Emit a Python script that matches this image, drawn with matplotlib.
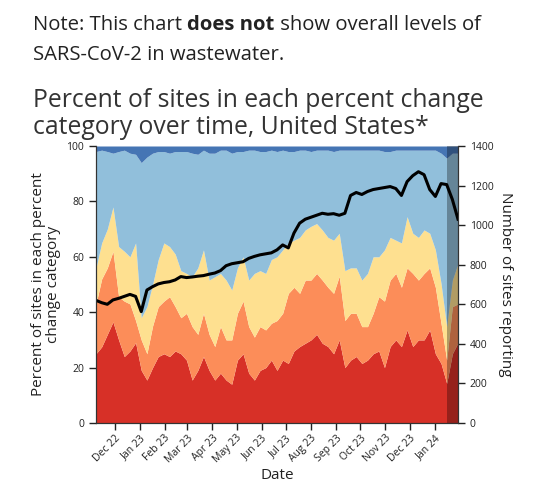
import numpy as np, pandas as pd, matplotlib
matplotlib.use("Agg")
import matplotlib.pyplot as plt
import matplotlib.dates as mdates

plt.rcParams['font.family'] = ['Open Sans', 'DejaVu Sans']

# weekly readings, Nov 2022 - Jan 2024 (cumulative tops of each band, % of sites)
dates = pd.date_range("2022-11-08", periods=65, freq="7D")
red_top = [25, 27.5, 32, 36.5, 30, 24, 26, 29, 19, 15.5, 20, 24, 25, 24, 26, 25,
           22.7, 15.5, 19, 24, 19, 15.5, 18, 15.5, 14, 22.7, 25, 18, 15.5, 19, 20, 22.7,
           19, 22.7, 21.5, 26, 27.6, 28.8, 30, 32, 28.8, 27.6, 25, 30, 20, 22.7, 24, 21.5,
           22.7, 25, 26, 20, 27.6, 30, 27.6, 33.6, 27.6, 30, 30, 33.6, 25, 21.5, 14.3, 25, 29]
orange_top = [43, 52, 56, 62, 45.6, 44, 43, 37, 30, 25, 35, 42, 44, 45.6, 42, 38,
              39.6, 34.8, 32, 39.6, 32, 27.6, 34.8, 30, 30, 39.6, 44, 34.8, 31, 34.8, 33.6, 36,
              37, 39.6, 46.8, 49, 46.8, 51.6, 51.6, 54, 51.6, 49, 46.8, 53, 37, 39.6, 39.6, 34.8,
              34.8, 39.6, 45.6, 44, 51.6, 54, 49, 56, 54, 51.6, 54, 56, 49, 36, 22.7, 42, 43]
yellow_top = [56, 65, 70, 78, 63.7, 62, 60, 65, 38, 42, 50, 59, 65, 63.7, 61, 55,
              54, 52.8, 56, 62.5, 51.6, 52.8, 54, 51.6, 48, 56, 60, 51.6, 54, 55, 54, 59,
              60, 62.5, 65, 66, 67, 69.7, 71, 72, 69.7, 67, 66, 68.5, 55, 56, 56, 51.6,
              54, 60, 60, 62.5, 67, 66, 65, 74.5, 68.5, 67, 69.7, 68.5, 62.5, 50.4, 34.8, 51.6, 57.6]
lightblue_top = [98, 98.5, 98, 97.4, 98, 98.5, 97.4, 97, 94, 96, 97.4, 98, 98, 97.4, 98, 98,
                 98, 97.4, 97, 98.5, 97.4, 97.4, 98.5, 98.5, 97.4, 98, 98, 98.5, 98.5, 98, 98, 98.5,
                 98, 98.5, 98, 98, 98.5, 98.5, 98, 98.5, 98.5, 98.5, 98, 98.5, 98.5, 98.5, 98.5, 98.5,
                 98.5, 98.5, 98.5, 98, 98, 98.5, 98.5, 98.5, 98.5, 98.5, 98.5, 98.5, 98.5, 97.4, 95.6, 97.4, 97.4]
sites = [620, 608, 600, 622, 630, 640, 650, 640, 563, 672, 689, 703, 710, 714, 723, 740,
         735, 738, 742, 745, 752, 758, 770, 795, 805, 810, 815, 832, 842, 850, 855, 860,
         875, 900, 885, 960, 1010, 1030, 1040, 1050, 1060, 1055, 1058, 1050, 1060, 1150, 1165, 1155,
         1170, 1180, 1185, 1190, 1195, 1185, 1150, 1220, 1250, 1270, 1255, 1180, 1145, 1210, 1205, 1130, 1030]
shade_start = 62  # last weeks are incomplete

colors = ["#d73027", "#fc8d59", "#fee090", "#91bfdb", "#4575b4"]
tops = [red_top, orange_top, yellow_top, lightblue_top, [100] * len(dates)]

fig = plt.figure(figsize=(5.4, 4.95), dpi=100)
ax = fig.add_axes([96/540, 1-423/495, 362/540, 277/495])
lo = np.zeros(len(dates))
for c, t in zip(colors, tops):
    ax.fill_between(dates, lo, t, color=c, lw=0)
    lo = np.array(t, dtype=float)
ax.set_xlim(dates[0], dates[-1]); ax.set_ylim(0, 100)
ax.axvspan(dates[shade_start], dates[-1], color="black", alpha=0.3, lw=0)

ax2 = ax.twinx()
ax2.plot(dates, sites, color="black", lw=2.2)
ax2.set_ylim(0, 1400); ax2.set_yticks(range(0, 1401, 200))

ax.set_yticks(range(0, 101, 20))
ax.xaxis.set_major_locator(mdates.MonthLocator(bymonthday=1))
ax.xaxis.set_major_formatter(mdates.DateFormatter("%b %y"))
for lab in ax.get_xticklabels():
    lab.set_rotation(45); lab.set_ha("right"); lab.set_rotation_mode("anchor")
for a in (ax, ax2):
    a.tick_params(labelsize=7.5, colors="#222222", length=5, width=1)
    a.spines["top"].set_visible(False)
    for s in a.spines.values():
        s.set_color("#333333")
ax.tick_params(axis="x", pad=2)

ax.set_xlabel("Date", fontsize=11, color="#222222", labelpad=2)
ax.set_ylabel("Percent of sites in each percent\nchange category", fontsize=11, color="#222222", linespacing=0.95)
ax2.set_ylabel("Number of sites reporting", fontsize=11, color="#222222", rotation=-90, labelpad=14)

# note line with bold part
fs = 14.6
t1 = fig.text(33/540, 1-30/495, "Note: This chart ", fontsize=fs, color="#222222", va="baseline")
fig.canvas.draw()
r = fig.canvas.get_renderer()
x = t1.get_window_extent(r).x1
t2 = fig.text(x/540, 1-30/495, "does not", fontsize=fs, color="#222222", va="baseline", weight="bold")
x = t2.get_window_extent(r).x1
fig.text(x/540, 1-30/495, " show overall levels of", fontsize=fs, color="#222222", va="baseline")
fig.text(33/540, 1-60/495, "SARS-CoV-2 in wastewater.", fontsize=fs, color="#222222", va="baseline")
fig.text(33/540, 1-107/495, "Percent of sites in each percent change", fontsize=17.8, color="#333333", va="baseline")
fig.text(33/540, 1-134/495, "category over time, United States*", fontsize=17.8, color="#333333", va="baseline")

fig.savefig("out.png", dpi=100)
